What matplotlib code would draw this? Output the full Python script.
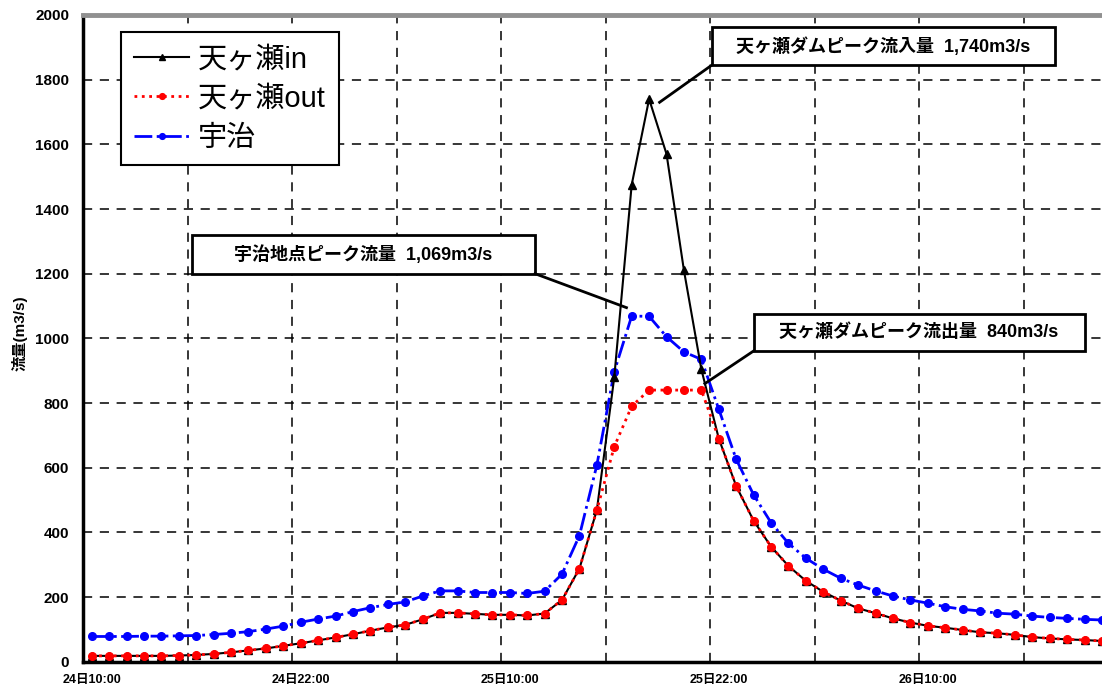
import numpy as np
import matplotlib
matplotlib.use('Agg')
import matplotlib.pyplot as plt
from matplotlib.patches import Rectangle

plt.rcParams['font.family'] = ['Liberation Sans', 'Noto Sans CJK JP']

# hourly flow (m3/s) from 24日10:00
tenkase_in = [18, 18, 18, 18, 18, 19, 21, 24, 29, 35,
              41, 49, 57, 66, 75, 85, 96, 106, 114, 131,
              151, 151, 148, 145, 145, 143, 149, 191, 288, 469,
              880, 1475, 1740, 1570, 1210, 904, 690, 543, 436, 356,
              296, 250, 216, 189, 165, 150, 134, 121, 111, 105,
              98, 91, 88, 83, 76, 72, 69, 67, 64]
tenkase_out = [18, 18, 18, 18, 18, 19, 21, 24, 29, 35,
               41, 49, 57, 66, 75, 85, 96, 106, 114, 131,
               151, 151, 148, 145, 145, 143, 149, 191, 288, 469,
               665, 790, 840, 840, 840, 840, 690, 543, 436, 356,
               296, 250, 216, 189, 165, 150, 134, 121, 111, 105,
               98, 91, 88, 83, 76, 72, 69, 67, 64]
uji = [78, 78, 78, 79, 79, 80, 81, 84, 88, 93,
       101, 110, 122, 132, 141, 155, 167, 177, 185, 203,
       219, 219, 214, 214, 214, 211, 218, 271, 390, 608,
       897, 1069, 1068, 1005, 958, 935, 781, 626, 516, 430,
       366, 320, 286, 258, 237, 219, 203, 191, 181, 170,
       162, 157, 150, 147, 141, 137, 134, 131, 129]

series_names = ['天ヶ瀬in', '天ヶ瀬out', '宇治']
tick_hours = [0, 12, 24, 36, 48]
tick_labels = ['24日10:00', '24日22:00', '25日10:00', '25日22:00', '26日10:00']

x = np.arange(len(tenkase_in)) + 0.5

fig = plt.figure(figsize=(11.02, 6.85), dpi=100)
ax = fig.add_axes([83 / 1102, 23.3 / 685, 1019 / 1102, 646.7 / 685])

h_uji, = ax.plot(x, uji, color='#0000ff', linestyle='-.', lw=2, marker='o', markersize=5.5, zorder=3)
h_in, = ax.plot(x, tenkase_in, color='black', linestyle='-', lw=1.5, marker='^', markersize=6, zorder=4)
h_out, = ax.plot(x, tenkase_out, color='#ff0000', linestyle=':', lw=2, marker='o', markersize=5.5, zorder=4.5)

ax.set_xlim(0, 58.5)
ax.set_ylim(0, 2000)
ax.set_yticks(range(0, 2001, 200))
ax.set_xticks(np.array(tick_hours) + 0.5)
ax.set_xticklabels(tick_labels, fontsize=9, fontweight='bold')
ax.set_xticks(range(6, 58, 6), minor=True)
for lab in ax.get_yticklabels():
    lab.set_fontsize(11)
    lab.set_fontweight('bold')
ax.tick_params(axis='both', which='both', length=0)
ax.tick_params(axis='y', pad=10)
ax.tick_params(axis='x', pad=9)

ax.grid(axis='y', which='major', color='black', linestyle=(0, (6, 5)), lw=1.1)
ax.grid(axis='x', which='minor', color='black', linestyle=(0, (6, 5)), lw=1.1)

ax.spines['right'].set_visible(False)
ax.spines['top'].set_color('#909090')
ax.spines['top'].set_linewidth(3.5)
ax.spines['left'].set_linewidth(2.5)
ax.spines['bottom'].set_linewidth(2.5)

fig.text(20 / 1102, 1 - 333 / 685, '流量(m3/s)', rotation=90, ha='center', va='center',
         fontsize=11, fontweight='bold')


def callout(text, x0, y0, x1, y1, tip, corner):
    ax.add_patch(Rectangle((x0, y0), x1 - x0, y1 - y0, facecolor='white',
                           edgecolor='black', lw=2, zorder=6))
    ax.text((x0 + x1) / 2, (y0 + y1) / 2, text, ha='center', va='center',
            fontsize=13, fontweight='bold', zorder=7)
    ax.plot([tip[0], corner[0]], [tip[1], corner[1]], color='black', lw=2, zorder=6)


callout('天ヶ瀬ダムピーク流入量  1,740m3/s', 36.1, 1845, 55.8, 1962, (33.1, 1730), (36.1, 1845))
callout('宇治地点ピーク流量  1,069m3/s', 6.24, 1200, 25.95, 1319, (31.2, 1095), (25.95, 1200))
callout('天ヶ瀬ダムピーク流出量  840m3/s', 38.5, 961, 57.5, 1075, (35.7, 860), (38.5, 961))

leg = ax.legend(handles=[h_in, h_out, h_uji], labels=series_names, loc='upper left',
                bbox_to_anchor=(0.037, 0.973), prop={'size': 21}, frameon=True,
                fancybox=False, edgecolor='black', framealpha=1, borderpad=0.45,
                handlelength=1.9, handletextpad=0.3, labelspacing=0.38,
                borderaxespad=0, numpoints=1, markerscale=0.75)
leg.get_frame().set_linewidth(1.5)
leg.set_zorder(8)

fig.savefig('out.png', dpi=100, facecolor='white')
